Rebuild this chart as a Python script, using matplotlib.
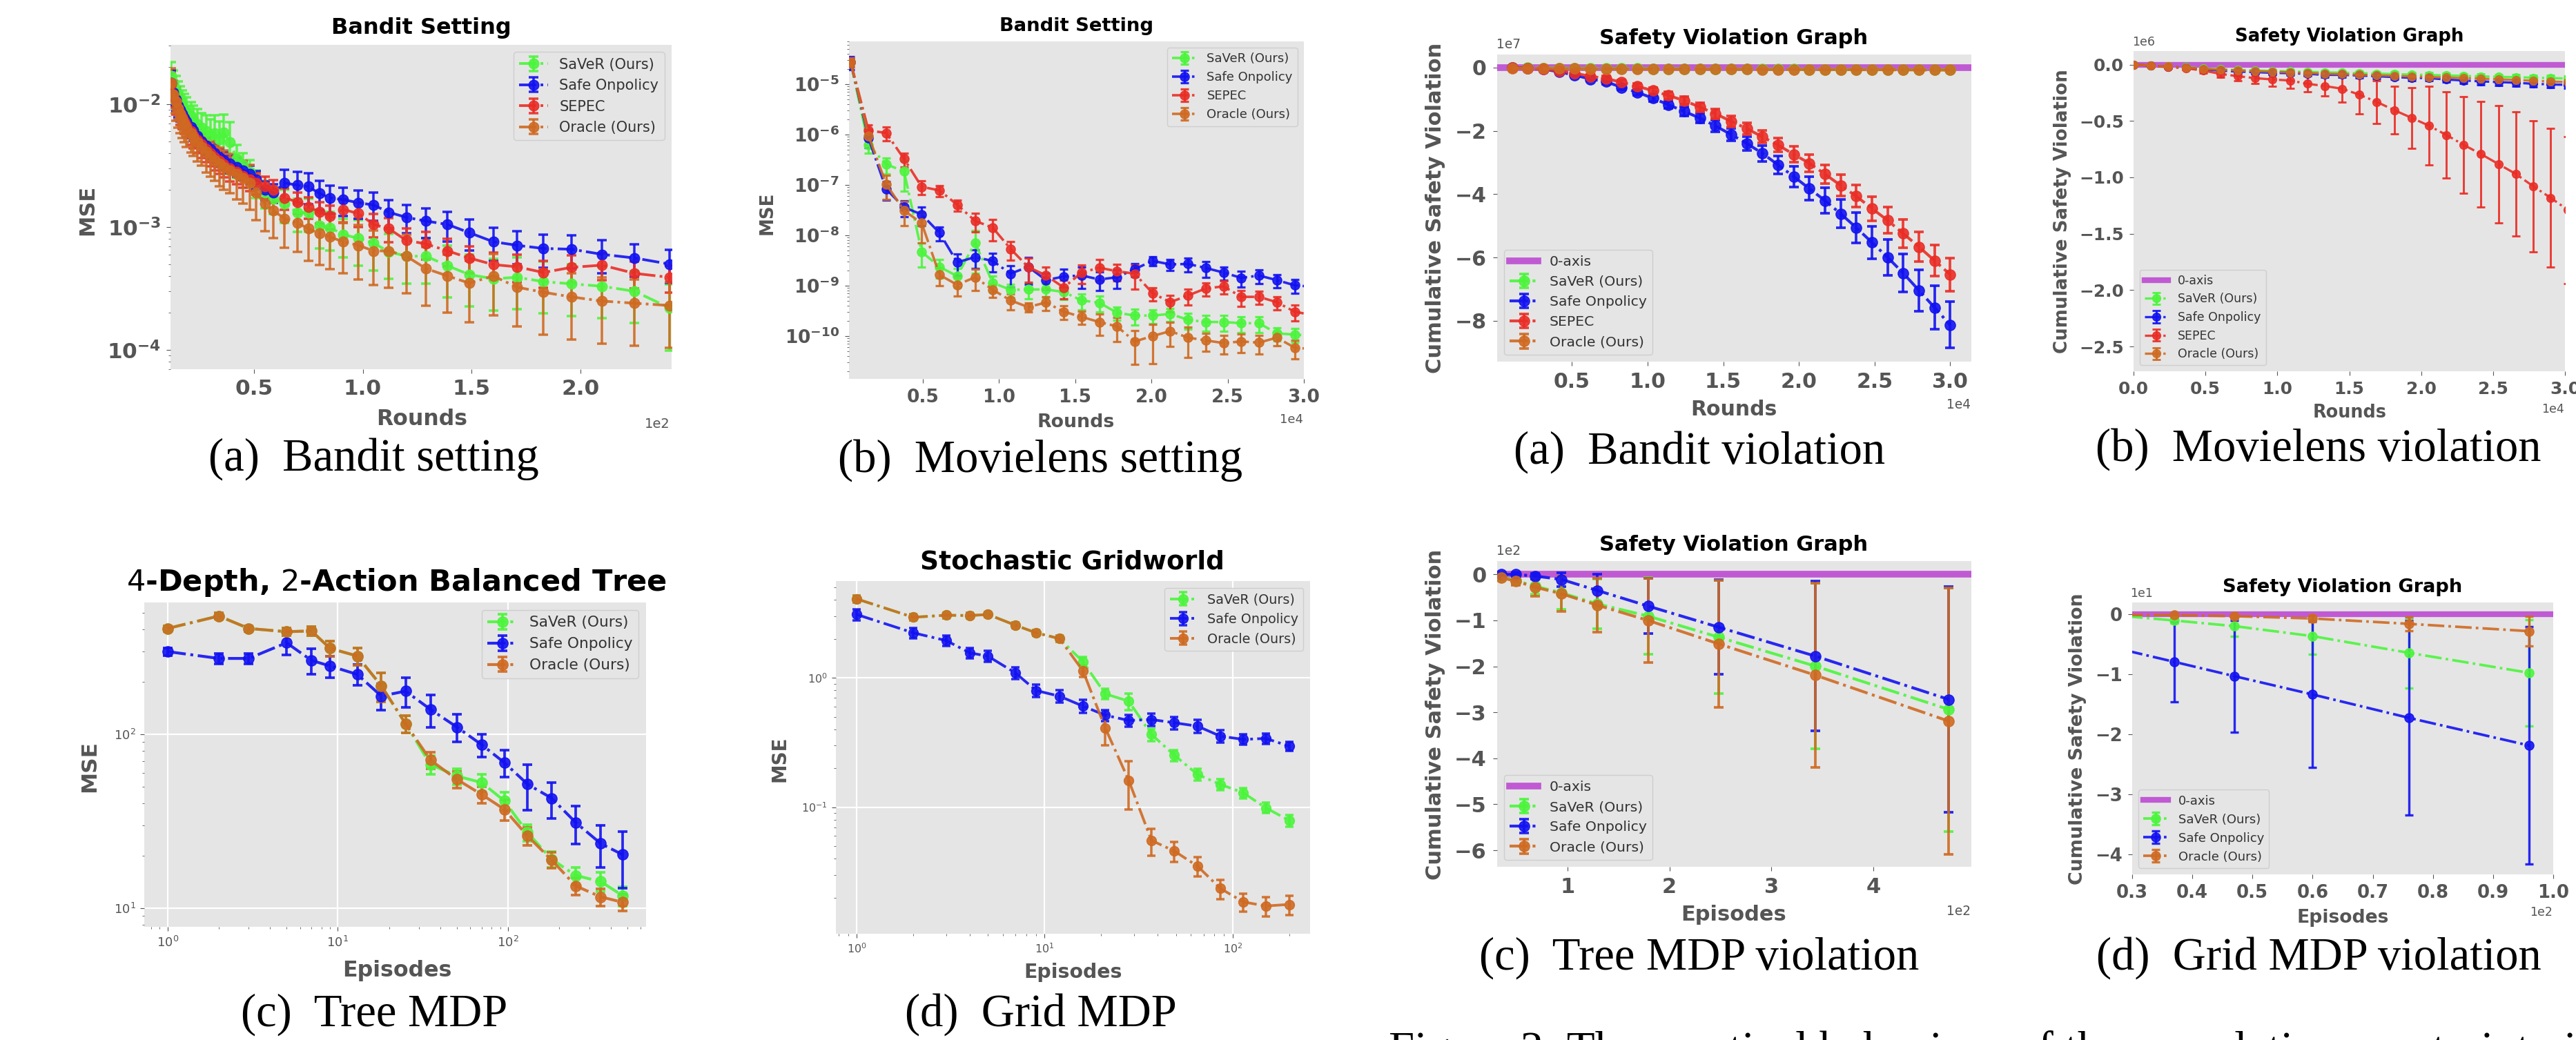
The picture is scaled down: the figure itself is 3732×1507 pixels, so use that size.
import numpy as np
import matplotlib
matplotlib.use("Agg")
import matplotlib.pyplot as plt
from matplotlib.ticker import NullFormatter

# ---------------- data ----------------
LABELS = ["SaVeR (Ours)", "Safe Onpolicy", "SEPEC", "Oracle (Ours)"]

# (a) Bandit setting MSE
A_X = [12, 13, 14, 15, 16, 17, 18, 19, 21, 22, 24, 26, 28, 30, 32, 34, 36, 39, 42, 45, 48, 51, 55, 59,
       64, 70, 75, 80, 85, 91, 98, 105, 112, 120, 129, 139, 149, 160, 171, 183, 196, 210, 225, 241]
A_SAVER = [1.7e-2, 1.45e-2, 1.3e-2, 1.18e-2, 1.08e-2, 1.0e-2, 9.3e-3, 8.7e-3, 8.0e-3, 7.5e-3, 6.9e-3, 6.4e-3,
           6.0e-3, 5.6e-3, 5.8e-3, 5.2e-3, 5.9e-3, 4.9e-3, 3.6e-3, 3.2e-3, 2.8e-3, 2.3e-3, 1.9e-3, 1.7e-3,
           1.55e-3, 1.31e-3, 1.31e-3, 1.03e-3, 9.9e-4, 8.7e-4, 8.1e-4, 7.4e-4, 6.3e-4, 5.8e-4, 5.8e-4, 4.85e-4,
           4.1e-4, 3.8e-4, 3.9e-4, 3.6e-4, 3.45e-4, 3.3e-4, 3.0e-4, 2.2e-4]
A_SAFE = [1.5e-2, 1.25e-2, 1.1e-2, 9.8e-3, 9.0e-3, 8.3e-3, 7.7e-3, 7.2e-3, 6.5e-3, 6.1e-3, 5.5e-3, 5.0e-3,
          4.6e-3, 4.3e-3, 4.0e-3, 3.7e-3, 3.5e-3, 3.3e-3, 3.1e-3, 2.9e-3, 2.7e-3, 2.45e-3, 2.0e-3, 1.9e-3,
          2.29e-3, 2.19e-3, 2.14e-3, 1.88e-3, 1.73e-3, 1.67e-3, 1.58e-3, 1.51e-3, 1.32e-3, 1.2e-3, 1.12e-3, 1.05e-3,
          9.0e-4, 7.6e-4, 7.1e-4, 6.7e-4, 6.6e-4, 6.0e-4, 5.6e-4, 5.0e-4]
A_SEPEC = [1.45e-2, 1.2e-2, 1.05e-2, 9.3e-3, 8.5e-3, 7.8e-3, 7.2e-3, 6.7e-3, 6.0e-3, 5.6e-3, 5.1e-3, 4.7e-3,
           4.3e-3, 4.0e-3, 3.7e-3, 3.45e-3, 3.25e-3, 3.0e-3, 2.8e-3, 2.6e-3, 2.45e-3, 2.3e-3, 2.15e-3, 2.0e-3,
           1.73e-3, 1.6e-3, 1.46e-3, 1.33e-3, 1.23e-3, 1.39e-3, 1.29e-3, 1.05e-3, 9.7e-4, 7.8e-4, 7.3e-4, 6.4e-4,
           5.6e-4, 4.95e-4, 4.75e-4, 4.27e-4, 4.7e-4, 4.9e-4, 4.2e-4, 3.9e-4]
A_ORACLE = [1.5e-2, 1.2e-2, 1.05e-2, 9.2e-3, 8.3e-3, 7.6e-3, 7.0e-3, 6.4e-3, 5.8e-3, 5.4e-3, 4.9e-3, 4.5e-3,
            4.1e-3, 3.8e-3, 3.5e-3, 3.3e-3, 3.1e-3, 2.9e-3, 2.7e-3, 2.5e-3, 2.3e-3, 1.9e-3, 1.55e-3, 1.36e-3,
            1.17e-3, 1.08e-3, 9.7e-4, 8.9e-4, 8.3e-4, 7.6e-4, 7.1e-4, 6.4e-4, 6.4e-4, 5.8e-4, 4.6e-4, 4.0e-4,
            3.5e-4, 4.0e-4, 3.24e-4, 2.95e-4, 2.7e-4, 2.5e-4, 2.4e-4, 2.3e-4]
# relative error (std / mean)
A_SAVER_REL = [0.3, 0.3, 0.3, 0.3, 0.3, 0.3, 0.3, 0.3, 0.3, 0.3, 0.32, 0.32, 0.35, 0.35, 0.4, 0.4, 0.4, 0.45,
               0.3, 0.25, 0.25, 0.25, 0.25, 0.25, 0.3, 0.3, 0.3, 0.35, 0.35, 0.35, 0.4, 0.4, 0.4, 0.4, 0.4, 0.45,
               0.45, 0.45, 0.45, 0.45, 0.45, 0.45, 0.45, 0.55]
A_SAFE_REL = [0.25, 0.22, 0.2, 0.2, 0.2, 0.18, 0.18, 0.18, 0.18, 0.17, 0.17, 0.17, 0.17, 0.17, 0.17, 0.17, 0.17,
              0.17, 0.17, 0.17, 0.17, 0.17, 0.17, 0.17, 0.27, 0.28, 0.28, 0.27, 0.26, 0.26, 0.26, 0.26, 0.26,
              0.26, 0.27, 0.27, 0.28, 0.3, 0.3, 0.3, 0.3, 0.3, 0.3, 0.3]
A_SEPEC_REL = [0.25, 0.22, 0.22, 0.2, 0.2, 0.2, 0.2, 0.2, 0.22, 0.22, 0.22, 0.22, 0.22, 0.22, 0.22, 0.22, 0.22,
               0.22, 0.2, 0.2, 0.2, 0.2, 0.2, 0.2, 0.2, 0.2, 0.2, 0.2, 0.22, 0.22, 0.22, 0.22, 0.22, 0.25, 0.25,
               0.25, 0.25, 0.25, 0.25, 0.25, 0.25, 0.25, 0.25, 0.25]
A_ORACLE_REL = [0.3, 0.3, 0.3, 0.3, 0.3, 0.3, 0.3, 0.3, 0.3, 0.3, 0.3, 0.3, 0.32, 0.32, 0.32, 0.35, 0.35, 0.35,
                0.38, 0.38, 0.4, 0.4, 0.4, 0.4, 0.42, 0.42, 0.45, 0.45, 0.45, 0.45, 0.47, 0.47, 0.5, 0.5, 0.5,
                0.5, 0.52, 0.52, 0.52, 0.55, 0.55, 0.55, 0.55, 0.55]

# (b) Movielens setting MSE
B_X = [260, 1430, 2590, 3760, 4920, 6090, 7250, 8420, 9580, 10750, 11910, 13080, 14240, 15410, 16570,
       17740, 18900, 20070, 21230, 22400, 23560, 24730, 25890, 27060, 28220, 29390, 30560]
B_SAVER = [2.75e-5, 6.2e-7, 2.57e-7, 1.87e-7, 4.7e-9, 2.37e-9, 1.55e-9, 7.15e-9, 1.14e-9, 8.3e-10, 8.4e-10,
           8.4e-10, 7.5e-10, 5.1e-10, 4.6e-10, 2.9e-10, 2.55e-10, 2.55e-10, 2.75e-10, 2.1e-10, 1.9e-10,
           1.9e-10, 1.8e-10, 1.8e-10, 1.13e-10, 1.07e-10, 1.0e-10]
B_SAFE = [2.75e-5, 8.5e-7, 8.3e-8, 3.6e-8, 2.6e-8, 1.12e-8, 2.9e-9, 3.7e-9, 3.1e-9, 1.73e-9, 2.37e-9, 1.29e-9,
          1.52e-9, 1.6e-9, 1.33e-9, 1.47e-9, 2.14e-9, 3.1e-9, 2.65e-9, 2.7e-9, 2.25e-9, 1.82e-9, 1.43e-9,
          1.59e-9, 1.29e-9, 1.02e-9, 9.5e-10]
B_SEPEC = [2.75e-5, 1.21e-6, 1.08e-6, 3.3e-7, 9.2e-8, 7.8e-8, 4.05e-8, 1.94e-8, 1.42e-8, 5.4e-9, 2.34e-9,
           1.6e-9, 9.2e-10, 1.82e-9, 2.27e-9, 1.94e-9, 1.73e-9, 7.1e-10, 4.7e-10, 6.4e-10, 8.8e-10, 9.7e-10,
           6.0e-10, 6.0e-10, 4.7e-10, 3.05e-10, 2.6e-10]
B_ORACLE = [2.75e-5, 9.5e-7, 1.04e-7, 3.1e-8, 1.75e-8, 1.64e-9, 1.04e-9, 1.47e-9, 8.3e-10, 5.1e-10, 3.76e-10,
            4.65e-10, 3.05e-10, 2.4e-10, 1.9e-10, 1.55e-10, 7.8e-11, 1.0e-10, 1.25e-10, 9.3e-11, 8.2e-11,
            7.25e-11, 7.8e-11, 7.4e-11, 9.3e-11, 5.9e-11, 5.5e-11]
B_SAVER_REL = [0.2, 0.3, 0.35, 0.6, 0.5, 0.4, 0.4, 0.75, 0.35, 0.3, 0.35, 0.3, 0.3, 0.35, 0.35, 0.3, 0.35, 0.3,
               0.3, 0.35, 0.35, 0.35, 0.35, 0.35, 0.3, 0.3, 0.3]
B_SAFE_REL = [0.3, 0.35, 0.4, 0.35, 0.4, 0.3, 0.45, 0.4, 0.4, 0.45, 0.55, 0.35, 0.4, 0.45, 0.4, 0.4, 0.3, 0.2,
              0.25, 0.3, 0.35, 0.3, 0.35, 0.3, 0.3, 0.3, 0.3]
B_SEPEC_REL = [0.2, 0.3, 0.3, 0.3, 0.3, 0.25, 0.25, 0.4, 0.45, 0.4, 0.5, 0.45, 0.4, 0.4, 0.45, 0.35, 0.5, 0.3,
               0.35, 0.35, 0.3, 0.3, 0.35, 0.3, 0.3, 0.35, 0.35]
B_ORACLE_REL = [0.2, 0.35, 0.5, 0.5, 0.6, 0.4, 0.4, 0.45, 0.3, 0.35, 0.2, 0.3, 0.3, 0.3, 0.45, 0.5, 0.65, 0.72,
                0.5, 0.6, 0.4, 0.4, 0.4, 0.4, 0.3, 0.4, 0.4]

# (a) Bandit violation (values in units of 1e7)
C_X = [1034, 2069, 3103, 4138, 5172, 6207, 7241, 8276, 9310, 10345, 11379, 12414, 13448, 14483, 15517,
       16552, 17586, 18621, 19655, 20690, 21724, 22759, 23793, 24828, 25862, 26897, 27931, 28966, 30000]
C_SAVER = [-0.01, -0.015, -0.02, -0.02, -0.025, -0.03, -0.03, -0.035, -0.035, -0.04, -0.04, -0.04, -0.045,
           -0.045, -0.05, -0.05, -0.05, -0.055, -0.055, -0.06, -0.06, -0.06, -0.065, -0.065, -0.07, -0.07,
           -0.07, -0.075, -0.075]
C_SAFE = [-0.005, -0.02, -0.05, -0.136, -0.24, -0.365, -0.448, -0.626, -0.782, -0.97, -1.178, -1.387, -1.595,
          -1.846, -2.117, -2.398, -2.711, -3.076, -3.441, -3.827, -4.202, -4.619, -5.057, -5.527, -5.996,
          -6.496, -7.038, -7.581, -8.133]
C_SEPEC = [-0.005, -0.02, -0.05, -0.104, -0.177, -0.28, -0.344, -0.469, -0.594, -0.73, -0.886, -1.043, -1.251,
           -1.46, -1.7, -1.929, -2.19, -2.45, -2.742, -3.024, -3.368, -3.723, -4.067, -4.453, -4.828, -5.245,
           -5.662, -6.1, -6.538]
C_ORACLE = [-0.02, -0.025, -0.03, -0.035, -0.035, -0.04, -0.04, -0.04, -0.045, -0.045, -0.05, -0.05, -0.05,
            -0.055, -0.055, -0.055, -0.06, -0.06, -0.06, -0.065, -0.065, -0.065, -0.07, -0.07, -0.07, -0.075,
            -0.075, -0.08, -0.08]
C_SAVER_ERR = [0.01] * 29
C_SAFE_ERR = [0.01, 0.02, 0.03, 0.04, 0.05, 0.06, 0.07, 0.08, 0.09, 0.1, 0.12, 0.14, 0.16, 0.18, 0.2, 0.22,
              0.25, 0.29, 0.33, 0.37, 0.4, 0.45, 0.48, 0.52, 0.56, 0.6, 0.65, 0.68, 0.73]
C_SEPEC_ERR = [0.01, 0.02, 0.03, 0.04, 0.05, 0.06, 0.07, 0.08, 0.09, 0.1, 0.11, 0.12, 0.14, 0.15, 0.17, 0.18,
               0.2, 0.22, 0.25, 0.27, 0.3, 0.33, 0.35, 0.38, 0.41, 0.44, 0.46, 0.49, 0.52]
C_ORACLE_ERR = [0.015] * 29

# (b) Movielens violation (values in units of 1e6)
D_X = [0, 1208, 2417, 3625, 4833, 6042, 7250, 8458, 9667, 10875, 12083, 13292, 14500, 15708, 16917, 18125,
       19333, 20542, 21750, 22958, 24167, 25375, 26583, 27792, 29000, 30208]
D_SAVER = [0, -0.008, -0.016, -0.022, -0.035, -0.042, -0.048, -0.052, -0.056, -0.06, -0.064, -0.068, -0.072,
           -0.076, -0.08, -0.084, -0.088, -0.092, -0.096, -0.1, -0.104, -0.108, -0.112, -0.116, -0.12, -0.123]
D_SAFE = [0, -0.009, -0.018, -0.026, -0.044, -0.053, -0.062, -0.067, -0.073, -0.076, -0.082, -0.091, -0.091,
          -0.097, -0.103, -0.111, -0.117, -0.12, -0.132, -0.141, -0.149, -0.155, -0.161, -0.17, -0.176, -0.18]
D_SEPEC = [0, -0.009, -0.023, -0.032, -0.053, -0.082, -0.103, -0.12, -0.132, -0.141, -0.17, -0.19, -0.214,
           -0.267, -0.331, -0.404, -0.472, -0.542, -0.624, -0.712, -0.794, -0.882, -0.97, -1.079, -1.181, -1.29]
D_ORACLE = [0, -0.008, -0.017, -0.024, -0.038, -0.045, -0.052, -0.058, -0.063, -0.068, -0.074, -0.08, -0.085,
            -0.09, -0.095, -0.1, -0.105, -0.11, -0.115, -0.12, -0.125, -0.13, -0.137, -0.143, -0.15, -0.155]
D_SAVER_ERR = [0, 0.003, 0.005, 0.007, 0.008, 0.009, 0.01, 0.011, 0.012, 0.013, 0.014, 0.015, 0.016, 0.017,
               0.018, 0.019, 0.02, 0.02, 0.021, 0.021, 0.022, 0.022, 0.023, 0.023, 0.024, 0.024]
D_SAFE_ERR = [0, 0.003, 0.005, 0.008, 0.01, 0.012, 0.014, 0.015, 0.016, 0.017, 0.018, 0.019, 0.02, 0.021,
              0.022, 0.023, 0.024, 0.025, 0.026, 0.027, 0.028, 0.029, 0.03, 0.03, 0.03, 0.03]
D_SEPEC_ERR = [0, 0.005, 0.01, 0.015, 0.02, 0.03, 0.04, 0.05, 0.06, 0.07, 0.07, 0.09, 0.12, 0.17, 0.19, 0.21,
               0.27, 0.35, 0.38, 0.43, 0.47, 0.52, 0.55, 0.58, 0.615, 0.65]
D_ORACLE_ERR = [0, 0.003, 0.005, 0.007, 0.008, 0.009, 0.01, 0.011, 0.012, 0.013, 0.014, 0.015, 0.016, 0.017,
                0.018, 0.019, 0.02, 0.02, 0.021, 0.021, 0.022, 0.022, 0.023, 0.023, 0.024, 0.024]

# (c) Tree MDP MSE
E_X = [1, 2, 3, 5, 7, 9, 13, 18, 25, 35, 50, 70, 95, 130, 180, 250, 350, 470]
E_SAVER = [406, 479, 406, 389, 393, 312, 282, 190, 115, 67, 57.5, 52.7, 41.4, 27.2, 19.1, 15.4, 14.2, 11.8]
E_SAFE = [299, 273, 273, 336, 266, 247, 221, 166, 177, 139, 110, 87, 68.7, 51.6, 42.9, 31, 23.5, 20.3]
E_ORACLE = [406, 479, 406, 389, 393, 312, 282, 190, 115, 71, 55, 45, 37, 26, 18.9, 13.4, 11.6, 10.8]
E_SAVER_ERR = [15, 20, 15, 20, 25, 30, 32, 36, 13, 8, 6, 6, 5, 3, 2, 1.8, 1.8, 1.5]
E_SAFE_ERR = [15, 18, 18, 50, 44, 35, 30, 28, 34, 29, 20, 13, 12, 15, 10, 7.7, 6.4, 7.3]
E_ORACLE_ERR = [15, 20, 15, 20, 25, 30, 32, 36, 13, 8, 6, 5, 5, 3, 2, 1.5, 1.3, 1.2]

# (d) Grid MDP MSE
F_X = [1, 2, 3, 4, 5, 7, 9, 12, 16, 21, 28, 37, 49, 65, 86, 114, 150, 200]
F_SAVER = [4.08, 2.94, 3.05, 3.03, 3.09, 2.55, 2.23, 2.01, 1.33, 0.752, 0.66, 0.365, 0.252, 0.179, 0.15, 0.129,
           0.0988, 0.0788]
F_SAFE = [3.09, 2.23, 1.94, 1.56, 1.47, 1.09, 0.798, 0.721, 0.604, 0.514, 0.468, 0.476, 0.449, 0.423, 0.354,
          0.334, 0.34, 0.296]
F_ORACLE = [4.08, 2.94, 3.05, 3.03, 3.09, 2.55, 2.23, 2.01, 1.13, 0.41, 0.161, 0.0553, 0.0457, 0.035, 0.0235,
            0.0185, 0.0172, 0.0177]
F_SAVER_ERR = [0.25, 0.15, 0.15, 0.15, 0.15, 0.12, 0.12, 0.1, 0.12, 0.07, 0.1, 0.04, 0.025, 0.018, 0.014, 0.012,
               0.009, 0.008]
F_SAFE_ERR = [0.3, 0.2, 0.18, 0.15, 0.14, 0.11, 0.09, 0.08, 0.07, 0.05, 0.05, 0.05, 0.05, 0.05, 0.04, 0.03,
              0.03, 0.025]
F_ORACLE_ERR = [0.25, 0.15, 0.15, 0.15, 0.15, 0.12, 0.12, 0.1, 0.12, 0.11, 0.065, 0.013, 0.008, 0.006, 0.004,
                0.003, 0.003, 0.003]

# (c) Tree MDP violation (values in units of 1e2)
G_X = [35, 49, 68, 94, 129, 179, 248, 343, 474]
G_SAVER = [-0.058, -0.131, -0.254, -0.4, -0.64, -0.907, -1.364, -1.996, -2.939]
G_SAFE = [0.0, 0.0, -0.036, -0.109, -0.348, -0.689, -1.147, -1.778, -2.721]
G_ORACLE = [-0.073, -0.145, -0.276, -0.421, -0.668, -1.001, -1.509, -2.192, -3.193]
G_SAVER_ERR = [0.04, 0.08, 0.18, 0.36, 0.54, 0.83, 1.23, 1.8, 2.65]
G_SAFE_ERR = [0.02, 0.03, 0.06, 0.15, 0.35, 0.6, 1.03, 1.63, 2.45]
G_ORACLE_ERR = [0.05, 0.09, 0.2, 0.38, 0.59, 0.91, 1.38, 2.0, 2.9]

# (d) Grid MDP violation (values in units of 1e1)
H_X = [29, 37, 47, 60, 76, 96]
H_SAVER = [-0.03, -0.1, -0.194, -0.361, -0.639, -0.972]
H_SAFE = [-0.6, -0.789, -1.028, -1.333, -1.722, -2.183]
H_ORACLE = [-0.005, -0.011, -0.028, -0.067, -0.156, -0.278]
H_SAVER_ERR = [0.03, 0.05, 0.17, 0.3, 0.59, 0.89]
H_SAFE_ERR = [0.5, 0.667, 0.93, 1.22, 1.62, 1.98]
H_ORACLE_ERR = [0.01, 0.02, 0.03, 0.05, 0.12, 0.25]

# ---------------- styling ----------------
GREEN = '#4cf53c'
BLUE = '#1212f2'
RED = '#ea2e26'
ORANGE = '#cf6a22'
PURPLE = '#c05ad3'
BG = '#E5E5E5'
GREY = '#555555'

W, H = 3732, 1507
DPI = 100
fig = plt.figure(figsize=(W / DPI, H / DPI), dpi=DPI)
fig.patch.set_facecolor('white')


def add_ax(L, R, T, B):
    return fig.add_axes([L / W, 1 - B / H, (R - L) / W, (B - T) / H])


def ftext(x, y, s, **kw):
    kw.setdefault('ha', 'center')
    kw.setdefault('va', 'center')
    fig.text(x / W, 1 - y / H, s, **kw)


def base(ax, grid=False):
    ax.set_facecolor(BG)
    for s in ax.spines.values():
        s.set_visible(False)
    ax.tick_params(which='both', direction='out', colors=GREY)
    if grid:
        ax.grid(True, which='major', color='white', lw=1.6)
        ax.set_axisbelow(True)


def series(ax, x, y, e, color, label, ms, lw, cap):
    ax.errorbar(x, y, yerr=e, fmt='-.o', color=color, ecolor=color, label=label, ms=ms, lw=lw,
                elinewidth=lw * 0.9, capsize=cap, capthick=lw * 0.9, alpha=0.9)


def lin_ticks(ax, xt, xl, yt, yl, fs, pad=6):
    ax.set_xticks(xt)
    ax.set_xticklabels(xl, fontsize=fs, fontweight='bold', color=GREY)
    ax.set_yticks(yt)
    ax.set_yticklabels(yl, fontsize=fs, fontweight='bold', color=GREY)
    ax.tick_params(axis='both', which='major', pad=pad, length=4)


def legend(ax, loc, fs):
    ax.legend(loc=loc, fontsize=fs, facecolor=BG, edgecolor='#CCCCCC', framealpha=0.9,
              labelcolor='#333333')


CAP = dict(fontsize=48, family=['Liberation Serif', 'DejaVu Serif'], color='black')
TTL = dict(fontweight='bold', color='black')
LBL = dict(fontweight='bold', color=GREY)
OFS = dict(color=GREY)

# ---------- (a) Bandit setting ----------
ax = add_ax(247, 973, 65, 535)
base(ax)
ax.set_yscale('log')
for y, rel, c, l in [(A_SAVER, A_SAVER_REL, GREEN, LABELS[0]), (A_SAFE, A_SAFE_REL, BLUE, LABELS[1]),
                     (A_SEPEC, A_SEPEC_REL, RED, LABELS[2]), (A_ORACLE, A_ORACLE_REL, ORANGE, LABELS[3])]:
    series(ax, A_X, y, np.array(y) * np.array(rel), c, l, 10.5, 2.8, 5)
ax.set_xlim(11.6, 242)
ax.set_ylim(6.97e-5, 3.04e-2)
ax.set_xticks([50, 100, 150, 200])
ax.set_xticklabels(['0.5', '1.0', '1.5', '2.0'], fontsize=22.4, fontweight='bold', color=GREY)
ax.set_yticks([1e-2, 1e-3, 1e-4])
ax.set_yticklabels([r'$\mathbf{10^{-2}}$', r'$\mathbf{10^{-3}}$', r'$\mathbf{10^{-4}}$'], fontsize=22.4,
                   color=GREY)
ax.yaxis.set_minor_formatter(NullFormatter())
ax.tick_params(axis='both', which='major', pad=6, length=4)
legend(ax, 'upper right', 15)
ftext(610, 41, 'Bandit Setting', fontsize=23, **TTL)
ftext(127, 304, 'MSE', fontsize=22, rotation=90, **LBL)
ftext(611, 608, 'Rounds', fontsize=22.7, **LBL)
ftext(952, 615, '1e2', fontsize=14, **OFS)
ftext(541, 665, '(a)  Bandit setting', **CAP)

# ---------- (b) Movielens setting ----------
ax = add_ax(1230, 1889, 60, 549)
base(ax)
ax.set_yscale('log')
for y, rel, c, l in [(B_SAVER, B_SAVER_REL, GREEN, LABELS[0]), (B_SAFE, B_SAFE_REL, BLUE, LABELS[1]),
                     (B_SEPEC, B_SEPEC_REL, RED, LABELS[2]), (B_ORACLE, B_ORACLE_REL, ORANGE, LABELS[3])]:
    series(ax, B_X, y, np.array(y) * np.array(rel), c, l, 9.5, 2.6, 4.5)
ax.set_xlim(150, 30000)
ax.set_ylim(1.41e-11, 7.1e-5)
ax.set_xticks([5000, 10000, 15000, 20000, 25000, 30000])
ax.set_xticklabels(['0.5', '1.0', '1.5', '2.0', '2.5', '3.0'], fontsize=19, fontweight='bold', color=GREY)
ax.set_yticks([1e-5, 1e-6, 1e-7, 1e-8, 1e-9, 1e-10])
ax.set_yticklabels([r'$\mathbf{10^{-%d}}$' % k for k in range(5, 11)], fontsize=19, color=GREY)
ax.yaxis.set_minor_formatter(NullFormatter())
ax.tick_params(axis='both', which='major', pad=6, length=4)
legend(ax, 'upper right', 13)
ftext(1559, 38, 'Bandit Setting', fontsize=19.7, **TTL)
ftext(1112, 309, 'MSE', fontsize=18.7, rotation=90, **LBL)
ftext(1559, 612, 'Rounds', fontsize=19.3, **LBL)
ftext(1871, 608, '1e4', fontsize=13, **OFS)
ftext(1507, 667, '(b)  Movielens setting', **CAP)

# ---------- (a) Bandit violation ----------
ax = add_ax(2169, 2856, 79, 524)
base(ax)
ax.axhline(0, color=PURPLE, lw=7, label='0-axis')
for y, e, c, l in [(C_SAVER, C_SAVER_ERR, GREEN, LABELS[0]), (C_SAFE, C_SAFE_ERR, BLUE, LABELS[1]),
                   (C_SEPEC, C_SEPEC_ERR, RED, LABELS[2]), (C_ORACLE, C_ORACLE_ERR, ORANGE, LABELS[3])]:
    series(ax, C_X, y, e, c, l, 11, 3, 5)
ax.set_xlim(50, 31400)
ax.set_ylim(-9.29, 0.41)
lin_ticks(ax, [5000, 10000, 15000, 20000, 25000, 30000], ['0.5', '1.0', '1.5', '2.0', '2.5', '3.0'],
          [0, -2, -4, -6, -8], ['0', '\u22122', '\u22124', '\u22126', '\u22128'], 21.6, pad=7)
legend(ax, 'lower left', 14.7)
ftext(2512, 55, 'Safety Violation Graph', fontsize=22, **TTL)
ftext(2080, 301, 'Cumulative Safety Violation', fontsize=22, rotation=90, **LBL)
ftext(2512, 593, 'Rounds', fontsize=21.5, **LBL)
ftext(2186, 65, '1e7', fontsize=13.4, **OFS)
ftext(2838, 586, '1e4', fontsize=13.4, **OFS)
ftext(2462, 655, '(a)  Bandit violation', **CAP)

# ---------- (b) Movielens violation ----------
ax = add_ax(3091, 3716, 74, 538)
base(ax)
ax.axhline(0, color=PURPLE, lw=6, label='0-axis')
for y, e, c, l in [(D_SAVER, D_SAVER_ERR, GREEN, LABELS[0]), (D_SAFE, D_SAFE_ERR, BLUE, LABELS[1]),
                   (D_SEPEC, D_SEPEC_ERR, RED, LABELS[2]), (D_ORACLE, D_ORACLE_ERR, ORANGE, LABELS[3])]:
    series(ax, D_X, y, e, c, l, 8.5, 2.4, 4.5)
ax.set_xlim(0, 30000)
ax.set_ylim(-2.72, 0.12)
lin_ticks(ax, [0, 5000, 10000, 15000, 20000, 25000, 30000], ['0.0', '0.5', '1.0', '1.5', '2.0', '2.5', '3.0'],
          [0, -0.5, -1.0, -1.5, -2.0, -2.5], ['0.0', '\u22120.5', '\u22121.0', '\u22121.5', '\u22122.0', '\u22122.5'],
          17.9, pad=6)
legend(ax, 'lower left', 12.5)
ftext(3404, 53, 'Safety Violation Graph', fontsize=18.7, **TTL)
ftext(2988, 306, 'Cumulative Safety Violation', fontsize=18.8, rotation=90, **LBL)
ftext(3404, 598, 'Rounds', fontsize=18.4, **LBL)
ftext(3106, 61, '1e6', fontsize=12.5, **OFS)
ftext(3699, 593, '1e4', fontsize=12.5, **OFS)
ftext(3359, 651, '(b)  Movielens violation', **CAP)

# ---------- (c) Tree MDP ----------
ax = add_ax(209, 936, 873, 1343)
base(ax, grid=True)
ax.set_xscale('log')
ax.set_yscale('log')
for y, e, c, l in [(E_SAVER, E_SAVER_ERR, GREEN, LABELS[0]), (E_SAFE, E_SAFE_ERR, BLUE, LABELS[1]),
                   (E_ORACLE, E_ORACLE_ERR, ORANGE, LABELS[3])]:
    series(ax, E_X, y, e, c, l, 11, 3, 5)
ax.set_xlim(0.73, 646)
ax.set_ylim(7.8, 573)
ax.set_xticks([1, 10, 100])
ax.set_yticks([10, 100])
ax.xaxis.set_minor_formatter(NullFormatter())
ax.yaxis.set_minor_formatter(NullFormatter())
ax.tick_params(axis='both', which='major', labelsize=13, pad=5, length=4)
legend(ax, 'upper right', 15.6)
ftext(575, 844, r'$\mathrm{4}$-Depth, $\mathrm{2}$-Action Balanced Tree', fontsize=31, **TTL)
ftext(130, 1110, 'MSE', fontsize=22.5, rotation=90, **LBL)
ftext(575, 1407, 'Episodes', fontsize=22.8, **LBL)
ftext(542, 1470, '(c)  Tree MDP', **CAP)

# ---------- (d) Grid MDP ----------
ax = add_ax(1211, 1898, 842, 1353)
base(ax, grid=True)
ax.set_xscale('log')
ax.set_yscale('log')
for y, e, c, l in [(F_SAVER, F_SAVER_ERR, GREEN, LABELS[0]), (F_SAFE, F_SAFE_ERR, BLUE, LABELS[1]),
                   (F_ORACLE, F_ORACLE_ERR, ORANGE, LABELS[3])]:
    series(ax, F_X, y, e, c, l, 10, 2.8, 4.5)
ax.set_xlim(0.776, 258)
ax.set_ylim(0.0105, 5.6)
ax.set_xticks([1, 10, 100])
ax.set_yticks([0.1, 1])
ax.xaxis.set_minor_formatter(NullFormatter())
ax.yaxis.set_minor_formatter(NullFormatter())
ax.tick_params(axis='both', which='major', labelsize=11.5, pad=5, length=4)
legend(ax, 'upper right', 13.8)
ftext(1553, 815, 'Stochastic Gridworld', fontsize=27, **TTL)
ftext(1129, 1100, 'MSE', fontsize=20, rotation=90, **LBL)
ftext(1555, 1409, 'Episodes', fontsize=20.4, **LBL)
ftext(1508, 1470, '(d)  Grid MDP', **CAP)

# ---------- (c) Tree MDP violation ----------
ax = add_ax(2169, 2856, 813, 1256)
base(ax)
ax.axhline(0, color=PURPLE, lw=7, label='0-axis')
for y, e, c, l in [(G_SAVER, G_SAVER_ERR, GREEN, LABELS[0]), (G_SAFE, G_SAFE_ERR, BLUE, LABELS[1]),
                   (G_ORACLE, G_ORACLE_ERR, ORANGE, LABELS[3])]:
    series(ax, G_X, y, e, c, l, 11, 3, 5)
ax.set_xlim(31, 496)
ax.set_ylim(-6.36, 0.29)
lin_ticks(ax, [100, 200, 300, 400], ['1', '2', '3', '4'],
          [0, -1, -2, -3, -4, -5, -6], ['0', '\u22121', '\u22122', '\u22123', '\u22124', '\u22125', '\u22126'],
          22, pad=7)
legend(ax, 'lower left', 14.7)
ftext(2512, 789, 'Safety Violation Graph', fontsize=22, **TTL)
ftext(2080, 1035, 'Cumulative Safety Violation', fontsize=22, rotation=90, **LBL)
ftext(2512, 1325, 'Episodes', fontsize=22, **LBL)
ftext(2186, 798, '1e2', fontsize=13.4, **OFS)
ftext(2838, 1320, '1e2', fontsize=13.4, **OFS)
ftext(2462, 1388, '(c)  Tree MDP violation', **CAP)

# ---------- (d) Grid MDP violation ----------
ax = add_ax(3089, 3699, 873, 1267)
base(ax)
ax.axhline(0, color=PURPLE, lw=6, label='0-axis')
for y, e, c, l in [(H_SAVER, H_SAVER_ERR, GREEN, LABELS[0]), (H_SAFE, H_SAFE_ERR, BLUE, LABELS[1]),
                   (H_ORACLE, H_ORACLE_ERR, ORANGE, LABELS[3])]:
    series(ax, H_X, y, e, c, l, 9.5, 2.7, 4.5)
ax.set_xlim(30, 100)
ax.set_ylim(-4.33, 0.2)
lin_ticks(ax, [30, 40, 50, 60, 70, 80, 90, 100], ['0.3', '0.4', '0.5', '0.6', '0.7', '0.8', '0.9', '1.0'],
          [0, -1, -2, -3, -4], ['0', '\u22121', '\u22122', '\u22123', '\u22124'], 18.7, pad=6)
legend(ax, 'lower left', 13)
ftext(3394, 851, 'Safety Violation Graph', fontsize=19.6, **TTL)
ftext(3010, 1071, 'Cumulative Safety Violation', fontsize=19.4, rotation=90, **LBL)
ftext(3394, 1330, 'Episodes', fontsize=19.2, **LBL)
ftext(3103, 860, '1e1', fontsize=12.5, **OFS)
ftext(3682, 1322, '1e2', fontsize=12.5, **OFS)
ftext(3359, 1388, '(d)  Grid MDP violation', **CAP)

# bottom caption line (cut by the page edge)
fig.text(2012 / W, 1 - 1541 / H, 'Figure 3: The practical behaviour of the cumulative constraint violation',
         ha='left', va='baseline', **CAP)

fig.savefig('out.png', dpi=DPI, facecolor='white')
